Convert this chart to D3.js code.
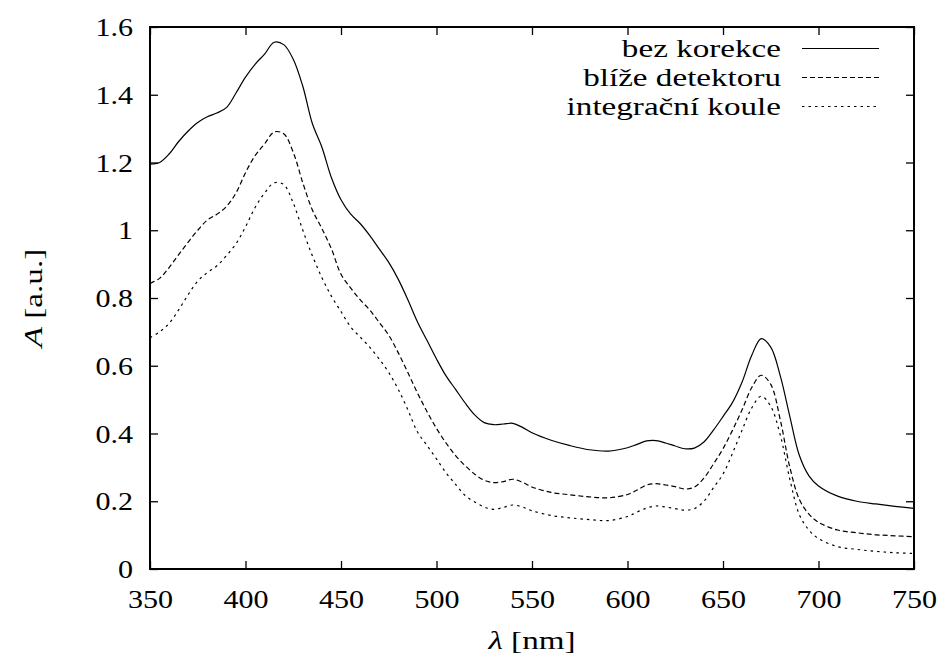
<!DOCTYPE html>
<html>
<head>
<meta charset="utf-8">
<script src="https://cdn.jsdelivr.net/npm/d3@7"></script>
<style>
  body { margin: 0; background: #fff; }
  text { font-family: "Liberation Serif", serif; fill: #000; }
</style>
</head>
<body>
<script>
// wavelength [nm]
var lambda = [350,355,360,365,370,375,380,385,390,395,400,405,410,415,420,425,430,435,440,445,
  450,455,460,465,470,475,480,485,490,495,500,505,510,515,520,525,530,535,540,545,550,
  560,570,580,590,600,605,610,615,620,625,630,635,640,645,650,655,660,665,670,675,680,
  685,690,695,700,710,720,730,740,750];

var bezKorekce = [1.195,1.20,1.225,1.262,1.293,1.318,1.335,1.346,1.362,1.405,1.452,1.49,1.52,1.555,1.548,1.505,1.425,1.315,1.245,1.155,
  1.09,1.048,1.02,0.985,0.945,0.905,0.855,0.795,0.73,0.675,0.62,0.57,0.53,0.49,0.455,0.432,0.426,0.428,0.43,0.418,0.402,
  0.38,0.364,0.352,0.348,0.358,0.368,0.378,0.379,0.372,0.363,0.355,0.357,0.375,0.41,0.45,0.492,0.552,0.63,0.68,0.655,0.57,
  0.45,0.335,0.275,0.245,0.215,0.2,0.192,0.185,0.179];

var blizeDetektoru = [0.843,0.858,0.89,0.928,0.965,1.0,1.03,1.047,1.07,1.11,1.17,1.22,1.255,1.29,1.285,1.23,1.14,1.06,1.005,0.945,
  0.87,0.83,0.795,0.765,0.728,0.69,0.638,0.58,0.52,0.465,0.415,0.372,0.335,0.305,0.28,0.262,0.255,0.258,0.265,0.256,0.242,
  0.226,0.219,0.213,0.21,0.22,0.233,0.248,0.252,0.248,0.243,0.236,0.242,0.268,0.31,0.355,0.41,0.47,0.535,0.572,0.545,0.44,
  0.3,0.205,0.162,0.138,0.115,0.107,0.101,0.098,0.095];

var integracniKoule = [0.683,0.70,0.725,0.765,0.81,0.85,0.875,0.895,0.925,0.96,1.01,1.067,1.11,1.14,1.135,1.08,1.0,0.925,0.86,0.805,
  0.76,0.715,0.685,0.655,0.62,0.58,0.53,0.47,0.405,0.365,0.325,0.284,0.25,0.217,0.198,0.183,0.176,0.182,0.189,0.183,0.172,
  0.158,0.151,0.146,0.143,0.155,0.168,0.18,0.186,0.183,0.178,0.174,0.178,0.2,0.24,0.28,0.342,0.41,0.475,0.51,0.48,0.395,
  0.265,0.16,0.115,0.09,0.066,0.058,0.052,0.048,0.046];

var seriesNames = ["bez korekce", "blíže detektoru", "integrační koule"];
var seriesDash = [null, "5,3", "2.5,4"];
var xTicks = [350,400,450,500,550,600,650,700,750];
var yTicks = [0,0.2,0.4,0.6,0.8,1.0,1.2,1.4,1.6];

var width = 947, height = 659;
var mLeft = 150, mRight = 914, mTop = 27, mBottom = 569;
var SX = 1.18;  // digits are drawn wide, like the TeX font
var SXT = 1.3;  // letters even wider
var fs = 25.5;

var svg = d3.select("body").append("svg").attr("width", width).attr("height", height);

var x = d3.scaleLinear().domain([350, 750]).range([mLeft, mRight]);
var y = d3.scaleLinear().domain([0, 1.6]).range([mBottom, mTop]);

var fmt = function(d) { return String(+d.toFixed(1)); };

// axes, ticks inward on all four sides
var gB = svg.append("g").attr("transform", "translate(0," + mBottom + ")")
  .call(d3.axisBottom(x).tickValues(xTicks).tickSizeInner(-8).tickSizeOuter(0).tickPadding(0).tickFormat(d3.format("d")));
var gT = svg.append("g").attr("transform", "translate(0," + mTop + ")")
  .call(d3.axisTop(x).tickValues(xTicks).tickSizeInner(-8).tickSizeOuter(0).tickFormat(""));
var gL = svg.append("g").attr("transform", "translate(" + mLeft + ",0)")
  .call(d3.axisLeft(y).tickValues(yTicks).tickSizeInner(-8).tickSizeOuter(0).tickPadding(0).tickFormat(fmt));
var gR = svg.append("g").attr("transform", "translate(" + mRight + ",0)")
  .call(d3.axisRight(y).tickValues(yTicks).tickSizeInner(-8).tickSizeOuter(0).tickFormat(""));

[gB, gT, gL, gR].forEach(function(g) {
  g.select(".domain").remove();
  g.selectAll(".tick line").attr("stroke", "#000").attr("stroke-width", 1.3);
});

gB.selectAll(".tick text")
  .attr("font-size", fs)
  .attr("dy", null).attr("y", 39)
  .attr("transform", "scale(" + SX + ",1)");
gL.selectAll(".tick text")
  .attr("font-size", fs)
  .attr("x", -17 / SX).attr("dy", "0.34em")
  .attr("transform", "scale(" + SX + ",1)");

svg.append("rect")
  .attr("x", mLeft).attr("y", mTop)
  .attr("width", mRight - mLeft).attr("height", mBottom - mTop)
  .attr("fill", "none").attr("stroke", "#000").attr("stroke-width", 2);

// curves
var allSeries = [bezKorekce, blizeDetektoru, integracniKoule];
var line = d3.line()
  .x(function(d) { return x(d[0]); })
  .y(function(d) { return y(d[1]); })
  .curve(d3.curveCatmullRom.alpha(0.5));

allSeries.forEach(function(vals, i) {
  var pts = lambda.map(function(l, j) { return [l, vals[j]]; });
  svg.append("path")
    .datum(pts)
    .attr("d", line)
    .attr("fill", "none")
    .attr("stroke", "#000")
    .attr("stroke-width", 1.2)
    .attr("stroke-dasharray", seriesDash[i]);
});

// legend
var legY = [48.5, 77.5, 106.5];
seriesNames.forEach(function(name, i) {
  svg.append("line")
    .attr("x1", 802).attr("x2", 879)
    .attr("y1", legY[i]).attr("y2", legY[i])
    .attr("stroke", "#000").attr("stroke-width", 1.2)
    .attr("stroke-dasharray", seriesDash[i]);
  svg.append("text")
    .attr("transform", "translate(781," + (legY[i] + 8) + ") scale(" + SXT + ",1)")
    .attr("text-anchor", "end")
    .attr("font-size", fs)
    .text(name);
});

// axis titles
var xl = svg.append("text")
  .attr("transform", "translate(" + ((mLeft + mRight) / 2) + ",649) scale(" + SXT + ",1)")
  .attr("text-anchor", "middle")
  .attr("font-size", fs);
xl.append("tspan").attr("font-style", "italic").text("λ");
xl.append("tspan").text(" [nm]");

var yl = svg.append("text")
  .attr("transform", "translate(42," + ((mTop + mBottom) / 2) + ") rotate(-90) scale(" + SXT + ",1)")
  .attr("text-anchor", "middle")
  .attr("font-size", fs);
yl.append("tspan").attr("font-style", "italic").text("A");
yl.append("tspan").text(" [a.u.]");
</script>
</body>
</html>
